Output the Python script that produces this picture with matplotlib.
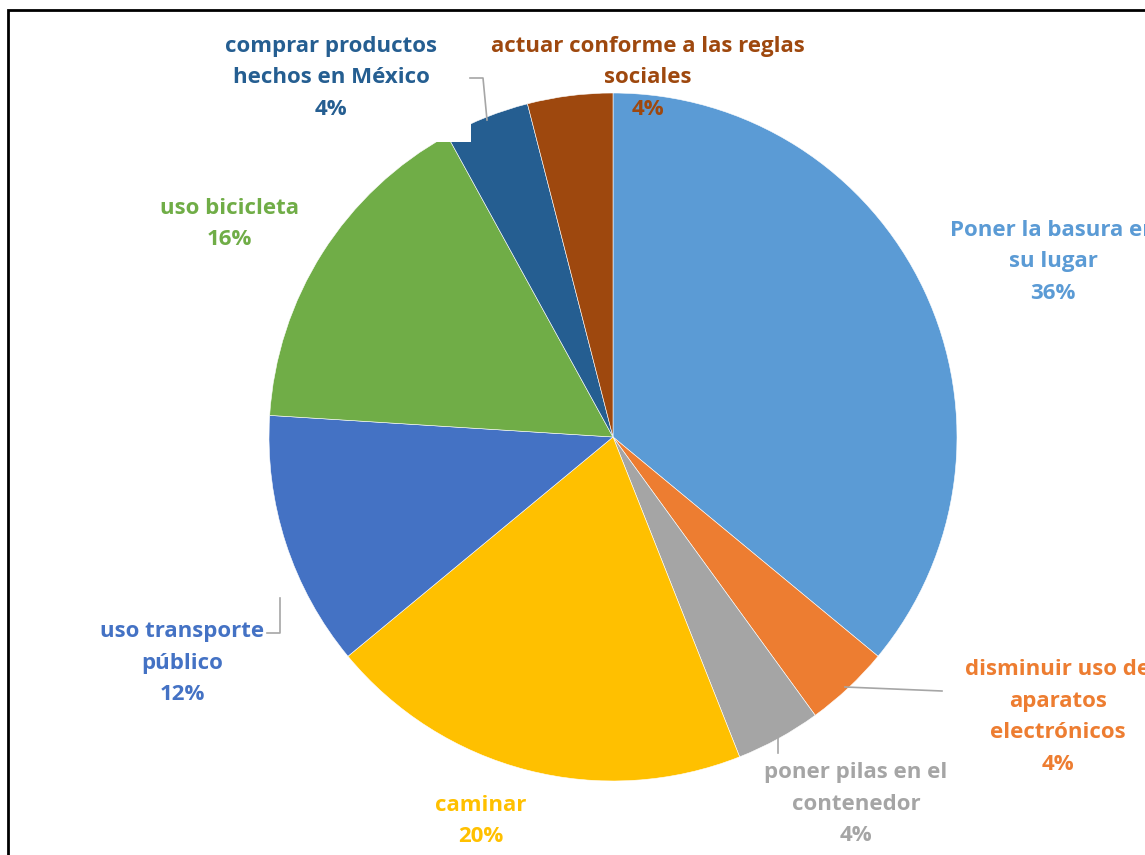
import matplotlib
matplotlib.use("Agg")
import matplotlib.pyplot as plt
from matplotlib.patches import Rectangle

# data, clockwise from 12 o'clock
labels = ['Poner la basura en\nsu lugar', 'disminuir uso de\naparatos\nelectrónicos',
          'poner pilas en el\ncontenedor', 'caminar', 'uso transporte\npúblico',
          'uso bicicleta', 'comprar productos\nhechos en México',
          'actuar conforme a las reglas\nsociales']
values = [36, 4, 4, 20, 12, 16, 4, 4]
colors = ['#5B9BD5', '#ED7D31', '#A5A5A5', '#FFC000', '#4472C4',
          '#70AD47', '#255E91', '#9E480E']

# label centres (pixel coords from top-left)
label_pos = [(1053, 262), (1058, 717), (856, 804), (481, 821), (182, 663),
             (229, 224), (331, 78), (648, 78)]

W, H = 1145, 855
fig = plt.figure(figsize=(W / 100, H / 100), dpi=100)
ax = fig.add_axes([0, 0, 1, 1])

cx, cy, r = 613, H - 437, 344
ax.pie(values, colors=colors, startangle=90, counterclock=False,
       center=(cx, cy), radius=r, frame=True,
       wedgeprops=dict(edgecolor='white', linewidth=0.4))
ax.set_xlim(0, W)
ax.set_ylim(0, H)
ax.axis('off')

# white label box that hides part of the pie
ax.add_patch(Rectangle((215, H - 142), 256, 114, facecolor='white',
                       edgecolor='none', zorder=3))

for lab, v, c, (x, y) in zip(labels, values, colors, label_pos):
    ax.text(x, H - y, f'{lab}\n{v}%', color=c, ha='center', va='center',
            fontsize=16, fontweight='bold', family='Open Sans',
            linespacing=1.68, zorder=5)

# leader lines
lc = '#A6A6A6'
ax.plot([470, 483, 487], [H - 78, H - 78, H - 120], color=lc, lw=1.2, zorder=4)
ax.plot([845, 942], [H - 687, H - 691], color=lc, lw=1.2, zorder=4)
ax.plot([778, 778], [H - 737, H - 753], color=lc, lw=1.2, zorder=4)
ax.plot([267, 280, 280], [H - 633, H - 633, H - 598], color=lc, lw=1.2, zorder=4)

# outer frame
ax.add_patch(Rectangle((8, -50), 1300, H - 10 + 50, facecolor='none',
                       edgecolor='black', lw=2, zorder=6))

fig.savefig('out.png', dpi=100)
